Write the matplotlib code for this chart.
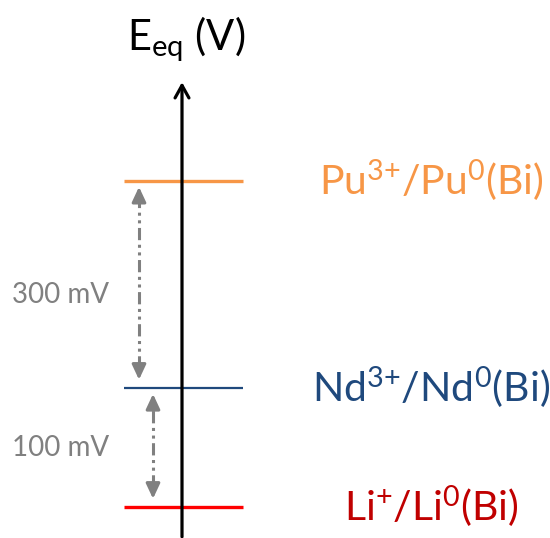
import matplotlib
matplotlib.use("Agg")
import matplotlib.pyplot as plt

# Data (schematic potential levels, arbitrary units: Li = 0, Nd = 1)
couples = ["Pu", "Nd", "Li"]
labels = ["Pu$^{3{+}}$/Pu$^{0}$(Bi)", "Nd$^{3{+}}$/Nd$^{0}$(Bi)", "Li$^{+}$/Li$^{0}$(Bi)"]
levels = [2.74, 1.0, 0.0]
line_colors = ["#F79646", "#1F497D", "#FF0000"]
text_colors = ["#F79646", "#1F497D", "#C00000"]
line_widths = [2.4, 1.6, 2.4]
gaps = ["300 mV", "100 mV"]
gap_text_levels = [1.78, 0.50]

plt.rcParams['font.family'] = ['Lato', 'DejaVu Sans']
plt.rcParams['mathtext.fontset'] = 'custom'
plt.rcParams['mathtext.rm'] = 'Lato'
plt.rcParams['mathtext.it'] = 'Lato'
plt.rcParams['mathtext.default'] = 'regular'

fig = plt.figure(figsize=(5.5, 5.38), dpi=100)
ax = fig.add_axes([0, 0, 1, 1])
ax.set_xlim(0, 550)
ax.set_ylim(-0.26, 4.26)
ax.axis('off')

# main axis arrow
ax.annotate("", xy=(182, 3.57), xytext=(182, -0.25),
            arrowprops=dict(arrowstyle="->,head_length=0.9,head_width=0.5",
                            color="black", lw=2.3, shrinkA=0, shrinkB=0))
ax.text(186, 3.93, "E$_{eq}$ (V)", fontsize=30, ha='center', va='center', color='black')

# levels
for lab, lv, lc, tc, lw in zip(labels, levels, line_colors, text_colors, line_widths):
    ax.plot([124, 243], [lv, lv], color=lc, lw=lw, solid_capstyle='butt')
    ax.text(431, lv, lab, fontsize=29.5, ha='center', va='center', color=tc)

# gap arrows
gray = "#808080"
gap_x = [139, 153]
pairs = [(levels[0], levels[1]), (levels[1], levels[2])]
for (top, bot), gx, g, ty in zip(pairs, gap_x, gaps, gap_text_levels):
    y_top = top - 0.05
    y_bot = bot + 0.07
    ax.plot([gx, gx], [y_bot + 0.1, y_top - 0.1], color=gray, lw=2.2,
            linestyle=(0, (4, 1.5, 1, 1.5, 1, 1.5)))
    for tip, tail in ((y_top, y_top - 0.12), (y_bot, y_bot + 0.12)):
        ax.annotate("", xy=(gx, tip), xytext=(gx, tail),
                    arrowprops=dict(arrowstyle="-|>,head_length=0.9,head_width=0.42",
                                    color=gray, lw=2.2, shrinkA=0, shrinkB=0))
    ax.text(12, ty, g, fontsize=20, ha='left', va='center', color=gray)

fig.savefig("out.png", dpi=100)
